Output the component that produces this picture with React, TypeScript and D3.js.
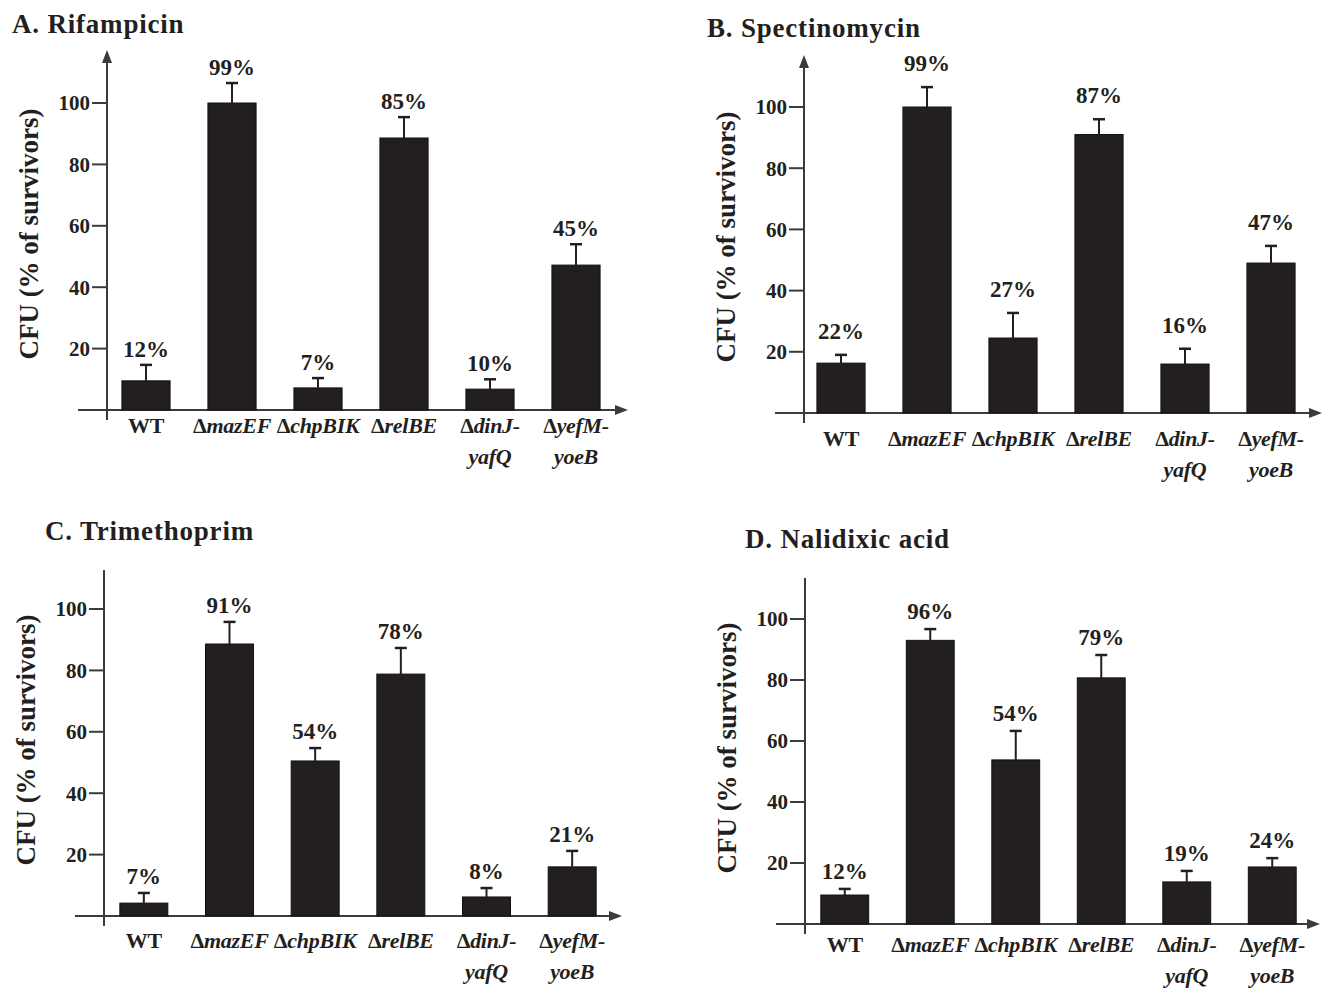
import React, { useRef, useEffect } from "react";
import * as d3 from "d3";

// strains on the x axis (same order in every panel)
const strains = ["WT", "ΔmazEF", "ΔchpBIK", "ΔrelBE", "ΔdinJ-yafQ", "ΔyefM-yoeB"];
const yTicks = [20, 40, 60, 80, 100];

// A. Rifampicin
const rifampicinMean = [9.5, 100, 7.2, 88.6, 6.8, 47.2];
const rifampicinErr = [5.2, 6.5, 3.2, 6.8, 3.2, 6.8];
const rifampicinPct = ["12%", "99%", "7%", "85%", "10%", "45%"];

// B. Spectinomycin
const spectinomycinMean = [16.3, 100, 24.5, 91, 16, 49];
const spectinomycinErr = [2.7, 6.5, 8.2, 5, 5, 5.6];
const spectinomycinPct = ["22%", "99%", "27%", "87%", "16%", "47%"];

// C. Trimethoprim
const trimethoprimMean = [4.2, 88.6, 50.5, 78.8, 6.2, 16];
const trimethoprimErr = [3.3, 7.2, 4.2, 8.5, 2.9, 5.2];
const trimethoprimPct = ["7%", "91%", "54%", "78%", "8%", "21%"];

// D. Nalidixic acid
const nalidixicMean = [9.5, 93, 53.8, 80.7, 13.8, 18.7];
const nalidixicErr = [2, 3.7, 9.5, 7.5, 3.6, 2.9];
const nalidixicPct = ["12%", "96%", "54%", "79%", "19%", "24%"];

const W = 1324;
const H = 990;
const ink = "#231f20";
const axisCol = "#3b3b3b";
const serif = "'Liberation Serif', 'Times New Roman', serif";

const panels = [
  {
    title: "A. Rifampicin", mean: rifampicinMean, err: rifampicinErr, pct: rifampicinPct,
    axisX: 107, top: 50, arrow: true, base: 410, y100: 103, xStart: 78, xEnd: 628,
    band: [103, 619], titleX: 12, titleY: 33, pctGap: 8, labelGap: 23,
  },
  {
    title: "B. Spectinomycin", mean: spectinomycinMean, err: spectinomycinErr, pct: spectinomycinPct,
    axisX: 804, top: 55, arrow: true, base: 413, y100: 107, xStart: 775, xEnd: 1322,
    band: [798, 1314], titleX: 707, titleY: 37, pctGap: 16, labelGap: 33,
  },
  {
    title: "C. Trimethoprim", mean: trimethoprimMean, err: trimethoprimErr, pct: trimethoprimPct,
    axisX: 104, top: 570, arrow: false, base: 916, y100: 609, xStart: 75, xEnd: 622,
    band: [101, 615], titleX: 45, titleY: 540, pctGap: 9, labelGap: 32,
  },
  {
    title: "D. Nalidixic acid", mean: nalidixicMean, err: nalidixicErr, pct: nalidixicPct,
    axisX: 805, top: 578, arrow: false, base: 924, y100: 619, xStart: 776, xEnd: 1320,
    band: [802, 1315], titleX: 745, titleY: 548, pctGap: 10, labelGap: 28,
  },
];

// writes "Δ" upright and the gene name in italics
function strainLine(text: any, s: string) {
  if (s.startsWith("Δ")) {
    text.append("tspan").attr("font-style", "normal").text("Δ");
    text.append("tspan").attr("font-style", "italic").text(s.slice(1));
  } else if (s === "WT") {
    text.append("tspan").attr("font-style", "normal").text(s);
  } else {
    text.append("tspan").attr("font-style", "italic").text(s);
  }
}

const App = () => {
  const ref = useRef<SVGSVGElement | null>(null);

  useEffect(() => {
    const svg = d3.select(ref.current);
    svg.selectAll("*").remove();
    svg.append("rect").attr("width", W).attr("height", H).attr("fill", "#fff");

    panels.forEach((p) => {
      const g = svg.append("g").attr("font-family", serif).attr("font-weight", "bold").attr("fill", ink);

      const x = d3.scaleBand<string>().domain(strains).range(p.band as [number, number])
        .paddingInner(0.44).paddingOuter(0.22);
      const y = d3.scaleLinear().domain([0, 100]).range([p.base, p.y100]);

      // title
      g.append("text").attr("x", p.titleX).attr("y", p.titleY)
        .attr("font-size", 27).attr("letter-spacing", 0.8).text(p.title);

      // y axis line + ticks
      g.append("line").attr("x1", p.axisX).attr("x2", p.axisX)
        .attr("y1", p.arrow ? p.top + 8 : p.top).attr("y2", p.base + 10)
        .attr("stroke", axisCol).attr("stroke-width", 2);
      if (p.arrow) {
        g.append("path")
          .attr("d", `M${p.axisX},${p.top} L${p.axisX - 5},${p.top + 13} L${p.axisX + 5},${p.top + 13} Z`)
          .attr("fill", axisCol);
      }
      yTicks.forEach((t) => {
        g.append("line").attr("x1", p.axisX - 15).attr("x2", p.axisX)
          .attr("y1", y(t)).attr("y2", y(t)).attr("stroke", axisCol).attr("stroke-width", 2);
        g.append("text").attr("x", p.axisX - 17).attr("y", y(t)).attr("dy", "0.35em")
          .attr("text-anchor", "end").attr("font-size", 21).text(t);
      });

      // y label
      g.append("text")
        .attr("transform", `translate(${p.axisX - 78}, ${p.base - 176}) rotate(-90)`)
        .attr("text-anchor", "middle").attr("dy", "0.35em").attr("font-size", 27)
        .text("CFU (% of survivors)");

      // x axis with arrow
      g.append("line").attr("x1", p.xStart).attr("x2", p.xEnd - 8)
        .attr("y1", p.base).attr("y2", p.base).attr("stroke", axisCol).attr("stroke-width", 2);
      g.append("path")
        .attr("d", `M${p.xEnd},${p.base} L${p.xEnd - 13},${p.base - 5} L${p.xEnd - 13},${p.base + 5} Z`)
        .attr("fill", axisCol);

      const bw = x.bandwidth();
      strains.forEach((s, i) => {
        const x0 = x(s) as number;
        const cx = x0 + bw / 2;
        const v = p.mean[i];
        const top = y(v + p.err[i]);

        g.append("rect").attr("x", x0).attr("y", y(v)).attr("width", bw)
          .attr("height", p.base - y(v)).attr("fill", ink)
          .attr("stroke", "#111").attr("stroke-width", 1);

        // error bar
        g.append("line").attr("x1", cx).attr("x2", cx).attr("y1", y(v)).attr("y2", top)
          .attr("stroke", ink).attr("stroke-width", 2);
        g.append("line").attr("x1", cx - 6).attr("x2", cx + 6).attr("y1", top).attr("y2", top)
          .attr("stroke", ink).attr("stroke-width", 2.5);

        g.append("text").attr("x", cx).attr("y", top - p.pctGap)
          .attr("text-anchor", "middle").attr("font-size", 23).text(p.pct[i]);

        // strain label, split after the hyphen
        const parts = s.includes("-") ? [s.slice(0, s.indexOf("-") + 1), s.slice(s.indexOf("-") + 1)] : [s];
        parts.forEach((line, li) => {
          const t = g.append("text").attr("x", cx).attr("y", p.base + p.labelGap + li * 31)
            .attr("text-anchor", "middle").attr("font-size", 22).attr("letter-spacing", -0.3);
          strainLine(t, line);
        });
      });
    });
  }, []);

  return (
    <div style={{ position: "absolute", left: 0, top: 0 }}>
      <svg ref={ref} width={W} height={H} viewBox={`0 0 ${W} ${H}`}></svg>
    </div>
  );
};

export default App;
